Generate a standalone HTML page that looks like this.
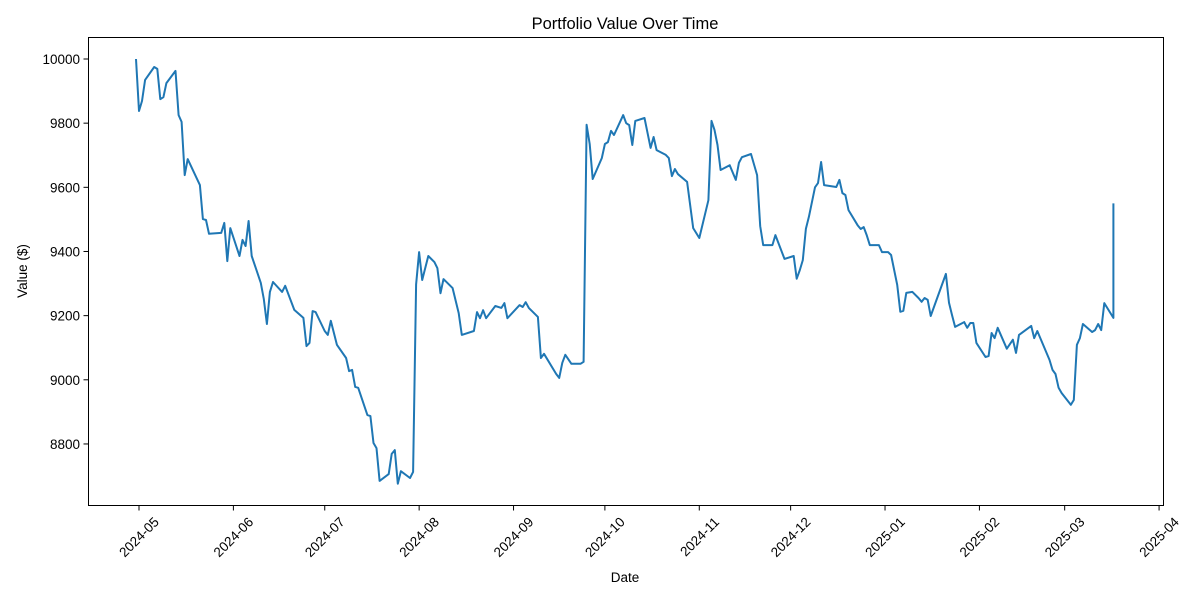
<!DOCTYPE html>
<html><head><meta charset="utf-8"><style>
body{margin:0;background:#fff}
svg{display:block;font-family:"Liberation Sans","DejaVu Sans",sans-serif}
</style></head><body>
<svg id="chart" width="1200" height="600">
<rect width="1200" height="600" fill="#fff"/>
<text x="625" y="29" text-anchor="middle" font-size="16.5" fill="#000">Portfolio Value Over Time</text>
<text x="625" y="582" text-anchor="middle" font-size="13.5">Date</text>
<text transform="translate(27,271) rotate(-90)" text-anchor="middle" font-size="13.5">Value ($)</text>
<g id="axes"></g>
<rect x="88.5" y="37.5" width="1075" height="468" fill="none" stroke="#000" stroke-width="1"/>
</svg>
<script>
// days since 2024-05-01
const days=[-1,0,1,2,5,6,7,8,9,12,13,14,15,16,20,21,22,23,27,28,29,30,33,34,35,36,37,40,41,42,43,44,47,48,51,54,55,56,57,58,61,62,63,65,68,69,70,71,72,75,76,77,78,79,82,83,84,85,86,89,90,91,92,93,95,97,98,99,100,103,105,106,110,111,112,113,114,117,119,120,121,125,126,127,128,131,132,133,137,138,139,140,142,145,146,147,148,149,152,153,154,155,156,159,160,161,162,163,166,168,169,170,173,174,175,176,177,180,182,184,187,188,189,190,191,194,196,197,198,201,203,204,205,208,209,212,215,216,217,218,219,220,222,223,224,225,229,230,231,232,233,236,237,238,239,240,243,244,246,247,249,250,251,252,254,256,257,258,259,260,265,266,267,268,271,272,273,274,275,278,279,280,281,282,285,287,288,289,293,294,295,299,300,301,302,303,306,307,308,309,310,313,314,315,316,317,320,320.01];
const values=[10000,9838,9869,9935,9975,9969,9875,9881,9925,9963,9825,9804,9638,9688,9607,9501,9498,9455,9458,9489,9370,9473,9386,9436,9417,9495,9386,9302,9252,9174,9274,9305,9274,9293,9218,9193,9105,9115,9214,9211,9152,9140,9184,9109,9068,9027,9031,8978,8975,8890,8887,8803,8787,8685,8706,8769,8781,8676,8715,8694,8713,9297,9398,9311,9386,9367,9348,9270,9314,9286,9208,9140,9152,9211,9192,9217,9192,9230,9224,9239,9192,9233,9227,9242,9224,9196,9068,9081,9018,9006,9053,9078,9050,9050,9056,9795,9735,9626,9691,9735,9741,9776,9763,9825,9800,9794,9732,9807,9816,9723,9757,9716,9701,9691,9635,9657,9641,9617,9473,9442,9560,9807,9779,9732,9654,9669,9623,9676,9694,9704,9638,9479,9420,9420,9451,9377,9386,9315,9342,9373,9471,9508,9600,9613,9679,9607,9601,9623,9582,9576,9529,9482,9470,9476,9450,9420,9420,9398,9398,9389,9296,9212,9215,9271,9274,9255,9243,9255,9249,9199,9330,9240,9202,9165,9180,9162,9177,9177,9115,9071,9074,9146,9130,9162,9097,9125,9084,9140,9168,9130,9152,9062,9031,9018,8975,8959,8922,8937,9109,9130,9174,9149,9155,9174,9155,9239,9193,9550];
const xTickDays=[0,31,61,92,123,153,184,214,245,276,304,335];
const xTickLabels=["2024-05","2024-06","2024-07","2024-08","2024-09","2024-10","2024-11","2024-12","2025-01","2025-02","2025-03","2025-04"];
const yTicks=[8800,9000,9200,9400,9600,9800,10000];

const NS="http://www.w3.org/2000/svg";
const X=d=>139+d*3.045;
const Y=v=>59+(10000-v)*0.3208;
const g=document.getElementById('axes');
function mk(t,a){const e=document.createElementNS(NS,t);for(const k in a)e.setAttribute(k,a[k]);return e;}
xTickDays.forEach((d,i)=>{
  const x=X(d);
  const t=mk('line',{x1:x,x2:x,y1:505.5,y2:510.5,stroke:'#000'});
  
  
  g.appendChild(t);
  const ax=x+14, ay=516;
  const l=mk('text',{x:ax,y:ay,'font-size':'13.5','text-anchor':'end',transform:`rotate(-45 ${ax} ${ay})`,'dominant-baseline':'hanging'});
  l.textContent=xTickLabels[i];
  
  
  g.appendChild(l);
});
yTicks.forEach(v=>{
  const y=Y(v);
  const t=mk('line',{x1:83.5,x2:88.5,y1:y,y2:y,stroke:'#000'});
  
  
  g.appendChild(t);
  const l=mk('text',{x:80,y:y+5,'font-size':'13.5','text-anchor':'end'});
  l.textContent=v;
  
  
  g.appendChild(l);
});
const pts=days.map((d,i)=>X(d).toFixed(1)+','+Y(values[i]).toFixed(1)).join(' ');
const pl=mk('polyline',{points:pts,fill:'none',stroke:'#1f77b4','stroke-width':'2','stroke-linejoin':'round'});


g.appendChild(pl);
</script>
</body></html>
